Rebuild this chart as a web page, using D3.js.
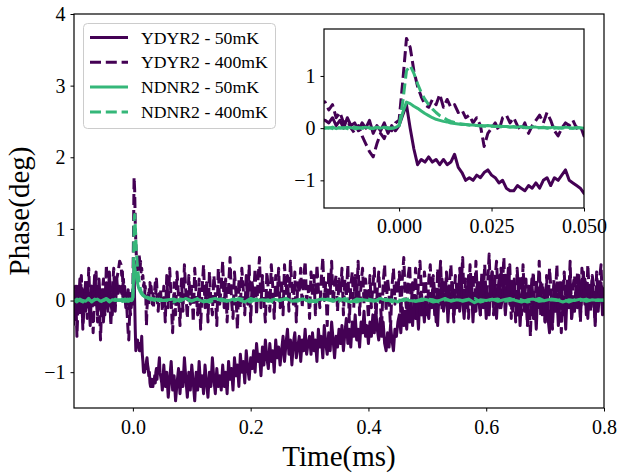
<!DOCTYPE html>
<html><head><meta charset="utf-8">
<script src="https://cdn.jsdelivr.net/npm/d3@7"></script>
<style>body{margin:0;background:#fff;} svg{display:block;} text{font-family:"Liberation Serif","Times New Roman",serif;fill:#000;}</style>
</head><body><svg id="c" width="619" height="473"></svg>
<script>
// ---- sampling grids (time in ms) ----
const preStart = -0.1, preStep = 0.0025;        // 32 samples up to -0.0225
const zoomStart = -0.02, zoomStep = 0.001;      // 71 samples up to 0.050
const postStart = 0.0525, postStep = 0.0025;    // 300 samples up to 0.800
const greenPreStart = -0.1, greenPreStep = 0.005;  // 16 samples
const greenPostStart = 0.06, greenPostStep = 0.01; // 75 samples up to 0.80

const seriesNames = ["YDYR2 - 50mK", "YDYR2 - 400mK", "NDNR2 - 50mK", "NDNR2 - 400mK"];

// YDYR2 - 50mK
const ydyr50Pre = [0.1,-0.25,0.2,-0.1,0.3,0.0,-0.3,0.15,-0.15,0.25,
 0.05,-0.35,0.2,-0.05,0.35,0.1,-0.2,0.3,-0.1,0.15,
 -0.3,0.05,0.25,-0.15,0.4,0.0,-0.2,0.2,-0.05,0.3,
 0.1,0.2];
const ydyr50Zoom = [0.15,0.1,0.2,0.05,0.15,0.0,0.2,0.05,0.1,-0.05,
 0.1,0.0,0.15,-0.1,0.05,-0.05,0.1,-0.1,0.05,-0.05,
 0.05,0.25,0.45,0.0,-0.4,-0.7,-0.6,-0.65,-0.55,-0.65,
 -0.6,-0.7,-0.6,-0.7,-0.65,-0.5,-0.75,-0.85,-1.0,-0.95,
 -1.0,-0.9,-0.95,-0.85,-0.8,-0.9,-0.95,-1.05,-1.0,-1.15,
 -1.2,-1.2,-1.1,-1.15,-1.2,-1.1,-1.15,-1.05,-1.15,-1.0,
 -0.95,-1.1,-0.95,-1.0,-0.9,-0.8,-1.0,-1.05,-1.1,-1.15,
 -1.25];
const ydyr50Post = [
 -0.9,-1.2,-1.0,-1.35,-1.1,-0.85,-1.25,-1.05,-1.4,-1.15,-0.95,-1.3,-1.0,-1.2,-0.8,-1.1,-1.35,-1.0,-1.25,-0.9,
 -1.15,-1.4,-1.0,-1.25,-0.85,-1.2,-1.05,-1.3,-0.9,-1.15,-1.35,-1.0,-1.2,-0.8,-1.1,-1.3,-0.95,-1.2,-1.05,-1.25,
 -0.9,-1.2,-1.0,-1.3,-0.85,-1.1,-0.95,-1.25,-0.8,-1.05,-0.9,-1.2,-0.75,-1.0,-0.85,-1.15,-0.7,-0.95,-1.1,-0.8,
 -0.95,-0.7,-1.0,-0.6,-0.85,-0.75,-1.05,-0.65,-0.9,-0.55,-0.8,-0.95,-0.6,-0.85,-0.7,-1.0,-0.55,-0.8,-0.65,-0.9,
 -0.7,-0.5,-0.85,-0.6,-0.4,-0.75,-0.55,-0.9,-0.6,-0.45,-0.8,-0.65,-0.5,-0.85,-0.55,-0.7,-0.4,-0.75,-0.6,-0.5,
 -0.75,-0.45,-0.7,-0.55,-0.85,-0.4,-0.65,-0.5,-0.8,-0.35,-0.6,-0.75,-0.45,-0.7,-0.3,-0.55,-0.8,-0.5,-0.65,-0.4,
 -0.6,-0.35,-0.7,-0.45,-0.25,-0.6,-0.4,-0.65,-0.3,-0.5,-0.2,-0.55,-0.4,-0.65,-0.3,-0.45,-0.15,-0.5,-0.35,-0.6,
 -0.3,-0.5,-0.2,-0.45,-0.15,-0.4,-0.55,-0.25,-0.5,-0.3,-0.6,-0.7,-0.45,-0.65,-0.35,-0.55,-0.7,-0.4,-0.5,-0.3,
 -0.2,-0.45,-0.1,-0.35,-0.15,-0.4,0.0,-0.3,-0.1,-0.35,0.05,-0.25,-0.1,-0.4,0.1,-0.2,-0.05,-0.3,0.05,-0.15,
 -0.25,0.1,-0.1,0.25,-0.2,0.05,-0.35,0.15,-0.05,0.3,-0.15,0.0,0.2,-0.3,0.1,-0.1,0.25,-0.2,0.05,-0.1,
 0.2,-0.15,0.3,0.0,-0.25,0.15,-0.1,0.35,-0.05,0.2,-0.3,0.1,-0.15,0.25,0.0,-0.2,0.3,-0.1,0.15,-0.25,
 0.1,-0.2,0.25,0.4,-0.05,0.2,-0.25,0.15,0.35,-0.1,0.05,0.3,-0.2,0.1,0.45,-0.05,0.2,-0.15,0.3,0.0,
 -0.2,0.15,-0.35,0.05,0.25,-0.15,0.1,-0.3,0.2,-0.05,0.3,-0.25,0.0,-0.4,0.15,-0.1,0.25,-0.2,0.05,-0.3,
 0.1,-0.25,-0.45,0.0,-0.3,0.2,-0.15,0.1,-0.35,-0.05,0.25,-0.2,0.05,-0.4,0.15,-0.1,0.3,-0.25,0.0,-0.15,
 0.2,-0.1,0.35,-0.2,0.1,0.4,-0.05,0.25,-0.25,0.15,-0.1,0.3,0.0,-0.3,0.2,-0.15,0.1,0.25,-0.2,0.05];

// YDYR2 - 400mK
const ydyr400Pre = [-0.35,0.2,-0.5,0.1,-0.2,0.35,-0.4,0.0,0.3,-0.25,
 0.45,-0.1,0.2,-0.45,0.1,0.4,-0.3,0.15,-0.55,0.05,
 0.3,-0.2,0.5,-0.1,0.25,-0.35,0.15,0.45,-0.15,0.3,
 0.4,0.55];
const ydyr400Zoom = [0.5,0.35,0.45,0.2,0.3,0.1,0.15,0.0,-0.1,0.05,
 -0.15,-0.3,-0.45,-0.55,-0.3,-0.1,-0.2,0.0,-0.05,0.1,
 0.15,0.9,1.72,1.55,1.1,0.8,0.6,0.45,0.4,0.55,
 0.45,0.65,0.4,0.55,0.4,0.45,0.3,0.35,0.2,0.25,
 0.1,0.2,0.05,-0.35,-0.1,0.0,0.1,-0.05,0.2,0.25,
 0.1,0.2,0.05,-0.05,0.1,-0.1,0.05,0.15,0.25,0.1,
 0.3,0.15,-0.05,-0.15,0.0,0.1,0.05,0.15,0.0,0.05,
 -0.15];
const ydyr400Post = [
 0.2,-0.3,0.35,-0.1,0.45,0.0,-0.45,0.25,-0.2,0.4,0.05,-0.35,0.3,-0.15,0.5,0.1,-0.25,0.35,-0.05,0.2,
 -0.3,0.45,0.1,-0.2,0.3,-0.4,0.15,0.5,-0.1,0.25,-0.3,0.4,0.0,-0.2,0.35,0.1,-0.35,0.45,-0.05,0.2,
 0.55,-0.1,0.3,-0.3,0.2,0.6,0.0,-0.25,0.4,0.1,-0.4,0.3,-0.1,0.45,0.15,-0.2,0.35,-0.05,0.5,-0.3,
 0.25,0.05,0.45,-0.2,0.3,0.6,-0.1,0.35,0.0,-0.3,0.4,0.15,-0.15,0.5,0.2,-0.25,0.35,0.05,0.45,-0.1,
 0.3,-0.2,0.5,0.1,0.35,-0.15,0.55,0.2,-0.05,0.4,-0.3,0.25,0.1,0.45,-0.1,0.3,0.55,0.0,0.2,-0.25,
 0.4,0.05,0.35,-0.2,0.5,0.15,-0.1,0.3,0.6,0.0,0.25,-0.35,0.4,0.1,0.55,-0.05,0.2,0.35,-0.15,0.3,
 0.1,0.45,-0.2,0.3,0.05,0.5,-0.3,0.2,0.4,-0.1,0.35,0.0,0.55,-0.2,0.25,0.45,-0.05,0.3,0.1,-0.25,
 0.35,-0.1,0.2,0.45,-0.3,0.15,0.4,0.0,-0.35,0.25,0.5,-0.15,0.3,0.1,-0.4,0.2,0.45,-0.05,0.3,0.1,
 0.4,-0.2,0.3,0.6,0.05,-0.15,0.35,0.5,-0.1,0.25,0.0,0.45,-0.25,0.3,0.55,0.1,-0.1,0.4,0.2,-0.2,
 0.3,0.5,-0.05,0.35,0.1,-0.3,0.45,0.2,0.55,-0.15,0.3,0.0,0.4,-0.2,0.25,0.5,0.05,-0.3,0.35,0.15,
 -0.1,0.45,0.2,0.6,-0.05,0.3,0.1,-0.25,0.5,0.15,0.35,-0.15,0.55,0.05,0.3,-0.2,0.4,0.1,0.5,-0.05,
 0.25,0.65,0.0,0.4,-0.2,0.3,0.55,0.1,-0.1,0.45,0.2,0.6,-0.15,0.35,0.05,0.5,-0.25,0.3,0.15,-0.3,
 0.45,0.1,0.35,-0.2,0.5,0.0,0.3,-0.35,0.2,-0.5,0.15,0.4,-0.1,0.3,0.05,0.55,-0.2,0.25,0.1,-0.3,
 0.35,-0.1,0.45,0.15,-0.4,0.3,0.05,0.5,-0.2,0.25,-0.45,0.1,0.4,-0.15,0.3,0.0,0.55,-0.25,0.2,0.35,
 -0.05,0.4,0.15,-0.3,0.45,0.05,0.3,-0.2,0.5,0.1,-0.15,0.35,0.2,-0.35,0.4,0.0,0.3,0.5,-0.1,0.2];

// NDNR2 - 50mK
const ndnr50Pre = [0.01,-0.02,0.02,0.0,-0.01,0.03,-0.02,0.01,0.02,-0.01,0.0,0.02,-0.02,0.01,0.0,0.01];
const ndnr50Zoom = [0.01,0.0,0.02,-0.01,0.01,0.0,0.02,0.01,-0.01,0.0,
 0.01,0.02,0.0,-0.01,0.01,0.0,0.02,0.01,0.0,0.01,
 0.05,0.3,0.5,0.47,0.42,0.38,0.33,0.28,0.24,0.2,
 0.17,0.15,0.13,0.12,0.1,0.09,0.08,0.07,0.07,0.06,
 0.06,0.05,0.05,0.04,0.05,0.04,0.03,0.04,0.03,0.03,
 0.02,0.03,0.02,0.03,0.02,0.01,0.02,0.02,0.01,0.02,
 0.01,0.01,0.02,0.0,0.01,0.02,0.01,0.0,0.01,0.01,
 0.0];
const ndnr50Post = [
 0.01,0.02,-0.01,0.03,0.0,0.02,-0.02,0.01,0.03,0.0,
 -0.01,0.02,0.01,-0.02,0.03,0.0,0.01,-0.01,0.02,0.0,
 0.03,-0.01,0.01,0.02,-0.02,0.0,0.02,0.01,-0.01,0.03,
 0.0,-0.02,0.02,0.01,0.0,-0.01,0.03,0.0,0.01,-0.02,
 0.02,0.0,-0.01,0.02,0.01,-0.02,0.0,0.03,-0.01,0.01,
 0.0,0.02,-0.03,0.01,0.0,0.02,-0.01,0.01,0.03,0.0,
 -0.02,0.01,0.02,-0.01,0.0,0.02,0.01,-0.02,0.01,0.0,
 0.02,-0.01,0.01,0.0,0.01];

// NDNR2 - 400mK
const ndnr400Pre = [-0.01,0.02,0.0,-0.02,0.03,0.01,-0.01,0.02,0.0,-0.02,0.01,0.03,0.0,-0.01,0.02,0.0];
const ndnr400Zoom = [0.0,0.01,-0.01,0.02,0.0,0.01,-0.01,0.0,0.02,0.01,
 0.0,-0.01,0.01,0.0,0.02,0.0,0.01,-0.01,0.0,0.01,
 0.05,0.5,1.1,1.2,1.05,0.85,0.68,0.55,0.45,0.37,
 0.3,0.24,0.2,0.16,0.13,0.11,0.09,0.08,0.07,0.06,
 0.05,0.05,0.04,0.04,0.03,0.04,0.03,0.03,0.02,0.03,
 0.02,0.02,0.01,0.02,0.01,0.01,0.02,0.0,0.01,0.01,
 0.0,0.01,0.0,0.01,0.0,0.01,0.0,0.0,0.01,0.0,
 0.0];
const ndnr400Post = [
 0.0,-0.02,0.02,0.01,-0.01,0.03,0.0,-0.02,0.01,0.02,
 0.0,-0.01,0.03,0.01,-0.02,0.02,0.0,0.01,-0.03,0.01,
 0.02,0.0,-0.01,0.03,0.01,-0.02,0.0,0.02,0.01,-0.01,
 0.03,0.0,-0.02,0.01,0.02,0.0,-0.01,0.02,-0.02,0.01,
 0.0,0.03,-0.01,0.0,0.02,0.01,-0.02,0.01,0.0,0.02,
 -0.01,0.01,0.03,-0.02,0.0,0.01,0.02,-0.01,0.0,0.02,
 0.01,-0.02,0.0,0.03,-0.01,0.01,0.0,0.02,-0.02,0.01,
 0.0,0.02,-0.01,0.01,0.0];

const xTicksMain = [0.0, 0.2, 0.4, 0.6, 0.8];
const yTicksMain = [-1, 0, 1, 2, 3, 4];
const xTicksInset = [0.000, 0.025, 0.050];
const yTicksInset = [-1, 0, 1];

const colors = ["#440154", "#440154", "#35b779", "#35b779"];
const dashed = [false, true, false, true];

// ---- assemble ----
function pts(arr, start, step) { return arr.map((v, i) => [start + i * step, v]); }
const pre = [ydyr50Pre, ydyr400Pre, ndnr50Pre, ndnr400Pre];
const zoom = [ydyr50Zoom, ydyr400Zoom, ndnr50Zoom, ndnr400Zoom];
const post = [ydyr50Post, ydyr400Post, ndnr50Post, ndnr400Post];
const preS = [preStart, preStart, greenPreStart, greenPreStart];
const preD = [preStep, preStep, greenPreStep, greenPreStep];
const postS = [postStart, postStart, greenPostStart, greenPostStart];
const postD = [postStep, postStep, greenPostStep, greenPostStep];
const mainData = pre.map((p, k) => pts(p, preS[k], preD[k])
  .concat(pts(zoom[k], zoomStart, zoomStep))
  .concat(pts(post[k], postS[k], postD[k])));
const insetData = pre.map((p, k) => [[preS[k] + (p.length - 1) * preD[k], p[p.length - 1]]]
  .concat(pts(zoom[k], zoomStart, zoomStep))
  .concat([[postS[k], post[k][0]]]));

const svg = d3.select("#c");
const M = {l: 74, r: 604, t: 14, b: 408};
const x = d3.scaleLinear().domain([-0.1, 0.8]).range([M.l, M.r]);
const y = d3.scaleLinear().domain([-1.5, 4]).range([M.b, M.t]);

const defs = svg.append("defs");
defs.append("clipPath").attr("id", "cm").append("rect")
  .attr("x", M.l).attr("y", M.t).attr("width", M.r - M.l).attr("height", M.b - M.t);

const LW = 3, DASH = "11,4.8";
const gm = svg.append("g").attr("clip-path", "url(#cm)");
mainData.forEach((d, k) => {
  gm.append("path").datum(d)
    .attr("d", d3.line().x(p => x(p[0])).y(p => y(p[1])))
    .attr("fill", "none").attr("stroke", colors[k]).attr("stroke-width", LW)
    .attr("stroke-linejoin", "round")
    .attr("stroke-dasharray", dashed[k] ? DASH : null);
});

function styleAxis(g) {
  g.select(".domain").remove();
  g.selectAll(".tick line").attr("stroke", "#000").attr("stroke-width", 1);
  g.selectAll(".tick text").attr("font-size", 20).attr("font-family", "Liberation Serif, Times New Roman, serif").attr("fill", "#000");
}
const fmtMinus = s => s.replace("-", "\u2212");
svg.append("g").attr("transform", `translate(0,${M.b})`)
  .call(d3.axisBottom(x).tickValues(xTicksMain).tickSize(3.5).tickPadding(8).tickFormat(d3.format(".1f")))
  .call(styleAxis);
svg.append("g").attr("transform", `translate(${M.l},0)`)
  .call(d3.axisLeft(y).tickValues(yTicksMain).tickSize(3.5).tickPadding(5).tickFormat(d => fmtMinus(String(d))))
  .call(styleAxis);
svg.append("rect").attr("x", M.l).attr("y", M.t).attr("width", M.r - M.l).attr("height", M.b - M.t)
  .attr("fill", "none").attr("stroke", "#000").attr("stroke-width", 1.2);

// axis titles
svg.append("text").attr("x", (M.l + M.r) / 2).attr("y", 466).attr("text-anchor", "middle")
  .attr("font-size", 29).text("Time(ms)");
svg.append("text").attr("transform", `translate(29,${(M.t + M.b) / 2}) rotate(-90)`).attr("text-anchor", "middle")
  .attr("font-size", 29).text("Phase(deg)");

// ---- legend ----
const lg = svg.append("g");
lg.append("rect").attr("x", 83.5).attr("y", 23.5).attr("width", 192).attr("height", 105).attr("rx", 4)
  .attr("fill", "#fff").attr("fill-opacity", 0.8).attr("stroke", "#cccccc").attr("stroke-width", 1);
seriesNames.forEach((name, k) => {
  const cy = 37.5 + k * 24.8;
  lg.append("line").attr("x1", 90).attr("x2", 128).attr("y1", cy).attr("y2", cy)
    .attr("stroke", colors[k]).attr("stroke-width", LW).attr("stroke-dasharray", dashed[k] ? DASH : null);
  lg.append("text").attr("x", 141).attr("y", cy + 6).attr("font-size", 17.7).text(name);
});

// ---- inset ----
const I = {l: 324, r: 584, t: 29, b: 208};
const xi = d3.scaleLinear().domain([-0.0203, 0.05]).range([I.l, I.r]);
const yi = d3.scaleLinear().domain([-1.53, 1.9]).range([I.b, I.t]);
svg.append("rect").attr("x", I.l).attr("y", I.t).attr("width", I.r - I.l).attr("height", I.b - I.t).attr("fill", "#fff");
defs.append("clipPath").attr("id", "ci").append("rect")
  .attr("x", I.l).attr("y", I.t).attr("width", I.r - I.l).attr("height", I.b - I.t);
const gi = svg.append("g").attr("clip-path", "url(#ci)");
insetData.forEach((d, k) => {
  gi.append("path").datum(d)
    .attr("d", d3.line().x(p => xi(p[0])).y(p => yi(p[1])))
    .attr("fill", "none").attr("stroke", colors[k]).attr("stroke-width", LW)
    .attr("stroke-linejoin", "round")
    .attr("stroke-dasharray", dashed[k] ? DASH : null);
});
svg.append("g").attr("transform", `translate(0,${I.b})`)
  .call(d3.axisBottom(xi).tickValues(xTicksInset).tickSize(3.5).tickPadding(7).tickFormat(d3.format(".3f")))
  .call(styleAxis);
svg.append("g").attr("transform", `translate(${I.l},0)`)
  .call(d3.axisLeft(yi).tickValues(yTicksInset).tickSize(3.5).tickPadding(5).tickFormat(d => fmtMinus(String(d))))
  .call(styleAxis);
svg.append("rect").attr("x", I.l).attr("y", I.t).attr("width", I.r - I.l).attr("height", I.b - I.t)
  .attr("fill", "none").attr("stroke", "#000").attr("stroke-width", 1.2);
</script></body></html>
